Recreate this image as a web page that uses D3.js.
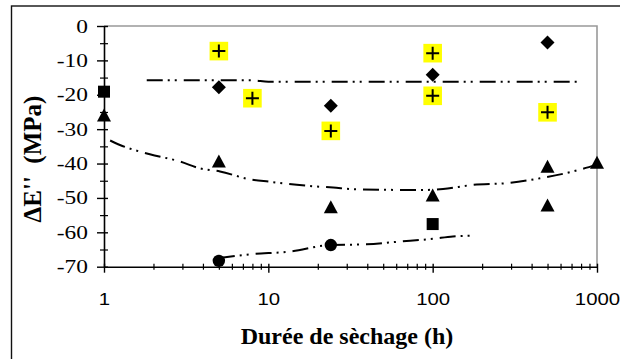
<!DOCTYPE html>
<html><head><meta charset="utf-8">
<script src="https://cdn.jsdelivr.net/npm/d3@7"></script>
<style>body{margin:0;background:#fff}svg{display:block}</style>
</head><body><svg id="c" width="620" height="359"></svg>
<script>
// ---- data ----
const yTickValues = [0, -10, -20, -30, -40, -50, -60, -70];
const yMinorTicks = [-5, -15, -25, -35, -45, -55, -65];
const xTickValues = [1, 10, 100, 1000];
const xTickLabels = ["1", "10", "100", "1000"];

const squareX = [1, 100];
const squareY = [-19.1, -57.6];
const circleX = [5, 24];
const circleY = [-68.3, -63.7];
const triangleX = [1, 5, 24, 100, 500, 500, 1000];
const triangleY = [-26, -39.4, -52.7, -49.3, -40.9, -52.2, -39.8];
const diamondX = [5, 24, 100, 500];
const diamondY = [-17.8, -23.2, -14.2, -4.8];
const plusX = [5, 8, 24, 100, 100, 500];
const plusY = [-7.3, -21.0, -30.5, -7.9, -20.3, -25.1];

const upperLineX = [1.82, 8, 10, 780];
const upperLineY = [-15.8, -15.8, -16.2, -16.2];
const midLineX = [1.09, 1.25, 1.9, 2.9, 3.84, 5.08, 7.74, 10.2, 14.9, 24.8, 34.5, 87.4, 115.7, 176, 282, 450, 714, 1000];
const midLineY = [-33.3, -34.6, -37.3, -39.4, -41.4, -42.3, -44.6, -45.3, -46.2, -47.0, -47.5, -47.7, -47.4, -46.2, -45.7, -44.3, -42.3, -40.3];
const lowLineX = [5, 7.74, 13.5, 23.9, 39.6, 63, 100, 132.6, 169];
const lowLineY = [-67.5, -66.4, -65.6, -63.7, -63.5, -62.7, -61.9, -61.2, -61.0];

const xTitle = "Durée de sèchage (h)";
const yTitle = "ΔE''  (MPa)";

// ---- chart ----
const serif = "'Liberation Serif','Times New Roman',serif";
const svg = d3.select("#c");
const L = 104, R = 597, T = 26, B = 266.7;
const x = d3.scaleLog().domain([1, 1000]).range([L, R]);
const y = d3.scaleLinear().domain([-70, 0]).range([B, T]);

// outer frame
svg.append("rect").attr("x", 11.5).attr("y", 6).attr("width", 700).attr("height", 400)
  .attr("fill", "none").attr("stroke", "#111").attr("stroke-width", 1.4);

// gray plot border (top/right)
svg.append("path").attr("d", `M${L},${T}H${R}V${B}`).attr("fill", "none")
  .attr("stroke", "#999").attr("stroke-width", 1.6);

// y axis minor
const gyMinor = svg.append("g").attr("transform", `translate(${L},0)`)
  .call(d3.axisLeft(y).tickValues(yMinorTicks).tickSize(4).tickFormat(""));
gyMinor.selectAll(".tick line").attr("x1", 4).attr("x2", -4).attr("stroke", "#000").attr("stroke-width", 1.2);
gyMinor.select(".domain").remove();
// y axis major
const gy = svg.append("g").attr("transform", `translate(${L},0)`)
  .call(d3.axisLeft(y).tickValues(yTickValues).tickSize(6).tickSizeOuter(0).tickPadding(0).tickFormat(d => d));
gy.select(".domain").attr("stroke", "#000").attr("stroke-width", 1.6);
gy.selectAll(".tick line").attr("x1", 4).attr("x2", -7).attr("stroke", "#000").attr("stroke-width", 1.4);
gy.selectAll(".tick text").attr("x", null).attr("dy", null)
  .attr("transform", "translate(-16,6) scale(1.3,1)")
  .attr("text-anchor", "end")
  .style("font-family", serif).style("font-size", "18px").attr("fill", "#000");

// x minor ticks
const xMinor = [];
for (let d = 1; d < 1000; d *= 10) for (let k = 2; k <= 9; k++) xMinor.push(d * k);
const gxMinor = svg.append("g").attr("transform", `translate(0,${B})`)
  .call(d3.axisBottom(x).tickValues(xMinor).tickSize(3).tickFormat(""));
gxMinor.selectAll(".tick line").attr("y1", -3).attr("y2", 3).attr("stroke", "#000").attr("stroke-width", 1.2);
gxMinor.select(".domain").remove();
const gx = svg.append("g").attr("transform", `translate(0,${B})`)
  .call(d3.axisBottom(x).tickValues(xTickValues).tickSize(5).tickSizeOuter(0)
    .tickFormat((d, i) => xTickLabels[i]));
gx.select(".domain").attr("stroke", "#000").attr("stroke-width", 1.6);
gx.selectAll(".tick line").attr("y1", -3).attr("y2", 6).attr("stroke", "#000").attr("stroke-width", 1.4);
gx.selectAll(".tick text").attr("y", null).attr("dy", null)
  .attr("transform", "translate(0,38) scale(1.2,1)")
  .style("font-family", "'Liberation Sans',Arial,sans-serif").style("font-size", "17px").attr("fill", "#000");

// titles
svg.append("text").attr("x", 347).attr("y", 344).attr("text-anchor", "middle")
  .style("font-family", serif).style("font-size", "24px")
  .style("font-weight", "bold").text(xTitle);
svg.append("text").attr("transform", "translate(41,159) rotate(-90)").attr("text-anchor", "middle")
  .style("font-family", serif).style("font-size", "25px")
  .style("font-weight", "bold").style("white-space", "pre").text(yTitle);

// trend lines
const dash = "16,5,2,5,2,7";
const line = d3.line().x(d => x(d[0])).y(d => y(d[1])).curve(d3.curveMonotoneX);
[[upperLineX, upperLineY], [midLineX, midLineY], [lowLineX, lowLineY]].forEach(([xs, ys]) => {
  svg.append("path").datum(xs.map((v, i) => [v, ys[i]])).attr("d", line)
    .attr("fill", "none").attr("stroke", "#000").attr("stroke-width", 2).attr("stroke-dasharray", dash);
});

// markers
const zip = (xs, ys) => xs.map((v, i) => [v, ys[i]]);
svg.append("g").selectAll("rect").data(zip(squareX, squareY)).join("rect")
  .attr("x", d => x(d[0]) - 6).attr("y", d => y(d[1]) - 6).attr("width", 12).attr("height", 12).attr("fill", "#000");
svg.append("g").selectAll("circle").data(zip(circleX, circleY)).join("circle")
  .attr("cx", d => x(d[0])).attr("cy", d => y(d[1])).attr("r", 6.2).attr("fill", "#000");
svg.append("g").selectAll("path").data(zip(triangleX, triangleY)).join("path")
  .attr("d", d => { const cx = x(d[0]), cy = y(d[1]); return `M${cx},${cy - 7}L${cx + 7},${cy + 6}L${cx - 7},${cy + 6}Z`; })
  .attr("fill", "#000");
svg.append("g").selectAll("path").data(zip(diamondX, diamondY)).join("path")
  .attr("d", d => { const cx = x(d[0]), cy = y(d[1]); return `M${cx},${cy - 7}L${cx + 7},${cy}L${cx},${cy + 7}L${cx - 7},${cy}Z`; })
  .attr("fill", "#000");
const gp = svg.append("g").selectAll("g").data(zip(plusX, plusY)).join("g")
  .attr("transform", d => `translate(${x(d[0])},${y(d[1])})`);
gp.append("rect").attr("x", -9.3).attr("y", -9.3).attr("width", 18.6).attr("height", 18.6).attr("fill", "#ffff00");
gp.append("path").attr("d", "M-6.5,0H6.5M0,-6.5V6.5").attr("stroke", "#000").attr("stroke-width", 2);
</script></body></html>
